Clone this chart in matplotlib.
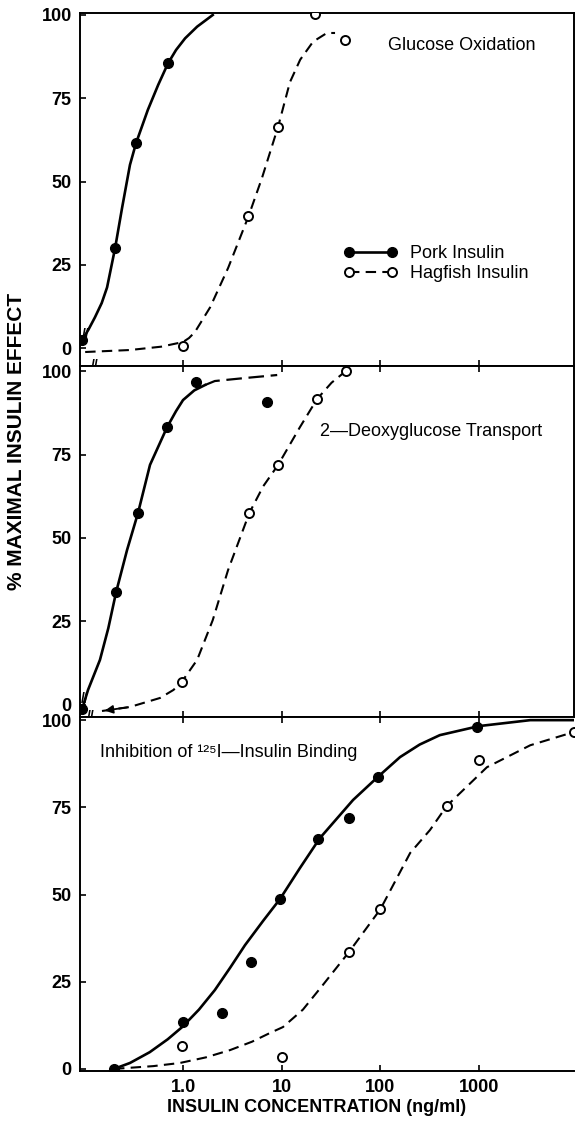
import numpy as np
import matplotlib.pyplot as plt
from matplotlib.lines import Line2D
from matplotlib.ticker import NullLocator

plt.rcParams['font.family'] = ['Liberation Sans', 'DejaVu Sans']

# control (no insulin) sits just inside the broken axis
ctrl = 0.095

# glucose oxidation
go_pork_x = [ctrl, 0.205, 0.334, 0.705]
go_pork_y = [2.4, 30.0, 61.5, 85.5]
go_hag_x = [1.0, 4.6, 9.2, 21.7, 43.8]
go_hag_y = [0.5, 39.5, 66.5, 100.3, 92.5]
go_pork_fit_x = [ctrl, 0.11, 0.128, 0.15, 0.17, 0.205, 0.241, 0.29, 0.334, 0.44, 0.56, 0.705, 0.85, 1.05, 1.39, 2.0]
go_pork_fit_y = [2.4, 5.5, 9.2, 13.5, 18.2, 30.0, 42.0, 55.0, 61.5, 71.5, 79.0, 85.5, 89.5, 93.0, 96.5, 100.0]
go_hag_fit_x = [0.102, 0.29, 0.6, 1.0, 1.15, 1.32, 1.88, 2.86, 4.6, 6.3, 9.2, 12.1, 15.4, 20.8, 28.7, 34.7]
go_hag_fit_y = [-1.2, -0.6, 0.4, 1.8, 3.0, 4.8, 12.2, 24.0, 39.5, 51.0, 66.5, 79.8, 86.6, 92.0, 94.6, 94.6]

# 2-deoxyglucose transport
dg_pork_x = [ctrl, 0.21, 0.35, 0.69, 1.35, 7.1]
dg_pork_y = [-1.2, 33.8, 57.5, 83.2, 96.7, 90.7]
dg_hag_x = [0.97, 4.7, 9.2, 22.8, 44.7]
dg_hag_y = [6.9, 57.5, 71.9, 91.6, 100.0]
dg_pork_fit_x = [ctrl, 0.109, 0.144, 0.175, 0.21, 0.271, 0.35, 0.463, 0.69, 0.85, 1.0, 1.3, 1.67]
dg_pork_fit_y = [-1.2, 4.5, 13.5, 23.0, 33.8, 46.4, 57.5, 71.9, 83.2, 88.0, 91.3, 94.2, 95.8]
dg_pork_ext_x = [1.67, 2.1, 4.25, 9.0]
dg_pork_ext_y = [95.8, 97.0, 97.9, 98.8]
dg_hag_fit_x = [0.151, 0.29, 0.585, 0.8, 0.97, 1.39, 2.0, 2.86, 4.7, 6.5, 9.2, 15.3, 22.8, 32.0, 44.7]
dg_hag_fit_y = [-1.8, -0.6, 2.1, 4.5, 6.9, 13.5, 25.4, 40.4, 57.5, 65.5, 71.9, 83.2, 91.6, 96.5, 100.0]

# inhibition of 125I-insulin binding
ib_pork_x = [0.2, 1.0, 2.5, 4.9, 9.6, 23.4, 48, 94, 955]
ib_pork_y = [0.0, 13.5, 16.0, 30.7, 48.7, 65.9, 71.9, 83.7, 98.0]
ib_hag_x = [0.98, 10, 48, 100, 470, 1000, 9100]
ib_hag_y = [6.6, 3.4, 33.5, 45.8, 75.4, 88.5, 96.6]
ib_pork_fit_x = [0.2, 0.29, 0.46, 0.7, 0.98, 1.45, 2.1, 3.0, 4.25, 6.5, 9.6, 15.3, 24.4, 52.8, 94, 158, 250, 400, 1000, 3300, 9150]
ib_pork_fit_y = [0.0, 1.7, 4.8, 8.5, 12.0, 17.0, 22.6, 29.0, 35.5, 42.5, 48.7, 57.6, 66.2, 77.1, 83.7, 89.4, 93.0, 95.7, 98.3, 100.0, 100.0]
ib_hag_fit_x = [0.2, 0.5, 0.93, 1.7, 3.0, 5.0, 7.6, 10.3, 16.4, 26, 48, 100, 200, 318, 470, 1200, 3300, 9150]
ib_hag_fit_y = [0.0, 0.8, 1.7, 3.3, 5.4, 7.8, 10.3, 12.0, 17.0, 24.0, 33.5, 45.8, 61.9, 68.5, 75.4, 86.5, 92.8, 96.6]

yticks = [0, 25, 50, 75, 100]
xticks = [1, 10, 100, 1000]
xticklabels = ['1.0', '10', '100', '1000']

dash = (0, (5, 3))
pork_kw = dict(ls='none', marker='o', ms=7, mfc='k', mec='k', zorder=4)
hag_kw = dict(ls='none', marker='o', ms=6.5, mfc='white', mec='k', mew=1.4, zorder=4)

fig = plt.figure(figsize=(5.76, 11.27), dpi=100)
left, width = 80/576, 494/576
ax1 = fig.add_axes([left, 1 - 366/1127, width, 353/1127])
ax2 = fig.add_axes([left, 1 - 717/1127, width, 351/1127])
ax3 = fig.add_axes([left, 1 - 1071/1127, width, 354/1127])

ylims = [(-5.4, 100.6), (-3.6, 101.5), (-0.6, 100.9)]

for i, ax in enumerate([ax1, ax2, ax3]):
    ax.set_xscale('log')
    ax.set_xlim(0.0904, 9150)
    ax.set_ylim(*ylims[i])
    ax.xaxis.set_minor_locator(NullLocator())
    ax.set_xticks(xticks)
    ax.set_yticks(yticks)
    ax.tick_params(direction='in', length=4, width=1.2, labelsize=13, pad=6,
                   top=(i > 0), right=False)
    for lab in ax.get_yticklabels():
        lab.set_fontweight('bold')
    for sp in ax.spines.values():
        sp.set_linewidth(1.4)
    if i < 2:
        ax.set_xticklabels([])
    else:
        ax.set_xticklabels(xticklabels, fontweight='bold')
        ax.spines['right'].set_visible(False)


def breakmark(ax, xs, ys):
    xm = np.sqrt(xs[0] * xs[1])
    ym = (ys[0] + ys[1]) / 2
    ax.text(xm, ym, '//', ha='center', va='center', fontsize=10, fontweight='bold', zorder=5)


# panel 1
ax1.plot(go_pork_fit_x, go_pork_fit_y, 'k-', lw=1.9)
ax1.plot(go_hag_fit_x, go_hag_fit_y, color='k', ls=dash, lw=1.5)
ax1.plot(go_pork_x, go_pork_y, **pork_kw)
ax1.plot(go_hag_x, go_hag_y, **hag_kw)
breakmark(ax1, go_pork_fit_x, go_pork_fit_y)
ax1.text(0.03, 0.0, '//', transform=ax1.transAxes, ha='center', va='center', fontsize=10, fontweight='bold')
ax1.text(0.623, 0.909, 'Glucose Oxidation', transform=ax1.transAxes, fontsize=13, va='center')
handles = [Line2D([], [], color='k', lw=1.9, marker='o', ms=7),
           Line2D([], [], color='k', lw=1.5, ls=dash, marker='o', ms=6.5, mfc='white', mew=1.4)]
ax1.legend(handles, ['Pork Insulin', 'Hagfish Insulin'], numpoints=2, handlelength=3.0,
           loc='center left', bbox_to_anchor=(0.5, 0.29), frameon=False, fontsize=13,
           handletextpad=0.7, labelspacing=0.15)

# panel 2
ax2.plot(dg_pork_fit_x, dg_pork_fit_y, 'k-', lw=1.9)
ax2.plot(dg_pork_ext_x, dg_pork_ext_y, color='k', ls=(0, (7, 3)), lw=1.6)
ax2.plot(dg_hag_fit_x, dg_hag_fit_y, color='k', ls=dash, lw=1.5)
ax2.annotate('', xy=(dg_hag_fit_x[0], dg_hag_fit_y[0]), xytext=(dg_hag_fit_x[1], dg_hag_fit_y[1]),
             arrowprops=dict(arrowstyle='-|>', color='k', lw=1.3, mutation_scale=12))
ax2.plot(dg_pork_x, dg_pork_y, **pork_kw)
ax2.plot(dg_hag_x, dg_hag_y, **hag_kw)
breakmark(ax2, dg_pork_fit_x, dg_pork_fit_y)
ax2.text(0.022, 0.0, '//', transform=ax2.transAxes, ha='center', va='center', fontsize=10, fontweight='bold')
ax2.text(0.486, 0.812, '2\u2014Deoxyglucose Transport', transform=ax2.transAxes, fontsize=13, va='center')

# panel 3
ax3.plot(ib_pork_fit_x, ib_pork_fit_y, 'k-', lw=1.9)
ax3.plot(ib_hag_fit_x, ib_hag_fit_y, color='k', ls=dash, lw=1.5)
ax3.plot(ib_pork_x, ib_pork_y, **pork_kw)
ax3.plot(ib_hag_x, ib_hag_y, **hag_kw)
ax3.text(0.04, 0.901, 'Inhibition of \u00b9\u00b2\u2075I\u2014Insulin Binding', transform=ax3.transAxes,
         fontsize=13, va='center')

fig.text(17/576, 1 - 441/1127, '% MAXIMAL INSULIN EFFECT', rotation=90, ha='center', va='center',
         fontsize=15, fontweight='bold')
fig.text(317/576, 1 - 1108/1127, 'INSULIN CONCENTRATION (ng/ml)', ha='center', va='center',
         fontsize=13, fontweight='bold')

fig.savefig('out.png', dpi=100)
